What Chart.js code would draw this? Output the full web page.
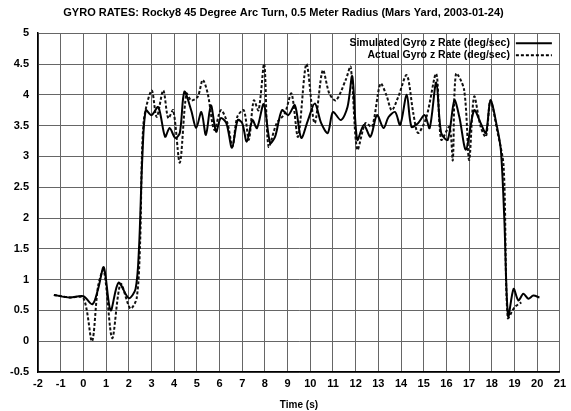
<!DOCTYPE html>
<html>
<head>
<meta charset="utf-8">
<script src="https://cdn.jsdelivr.net/npm/chart.js@4"></script>
<style>
  html, body { margin: 0; padding: 0; background: #fff; }
  #wrap { width: 571px; height: 411px; }
</style>
</head>
<body>
<div id="wrap"><canvas id="myChart"></canvas></div>
<script>
// chart text
const chartTitle = "GYRO RATES: Rocky8 45 Degree Arc Turn, 0.5 Meter Radius (Mars Yard, 2003-01-24)";
const xTitle = "Time (s)";
const seriesNames = ["Simulated Gyro z Rate (deg/sec)", "Actual Gyro z Rate (deg/sec)"];

// axis ranges / tick steps
const xRange = [-2, 21];
const yRange = [-0.5, 5];
const xStep = 1;
const yStep = 0.5;

// simulated gyro (solid line)
const simTime = [-1.3, -0.6, 0.0, 0.4, 0.65, 0.9, 1.2, 1.55, 2.0, 2.3, 2.45, 2.6, 2.75, 3.0, 3.3, 3.6, 3.8, 4.05, 4.25, 4.45,
  4.75, 4.97, 5.2, 5.4, 5.62, 5.85, 6.05, 6.3, 6.55, 6.8, 7.0, 7.2, 7.45, 7.65, 7.95, 8.23, 8.45, 8.75, 9.03, 9.32,
  9.6, 9.9, 10.2, 10.48, 10.77, 11.0, 11.35, 11.64, 11.85, 12.07, 12.36, 12.65, 12.94, 13.23, 13.45, 13.74, 13.96, 14.25, 14.46, 14.75,
  15.04, 15.26, 15.55, 15.77, 16.06, 16.35, 16.57, 16.86, 17.22, 17.51, 17.74, 17.94, 18.23, 18.4, 18.55, 18.72, 18.96, 19.17, 19.39, 19.61,
  19.83, 20.1];
const simRate = [0.75, 0.71, 0.73, 0.6, 0.85, 1.2, 0.5, 0.95, 0.7, 0.85, 1.5, 3.0, 3.75, 3.67, 3.8, 3.32, 3.46, 3.3, 3.38, 4.05,
  3.75, 3.46, 3.72, 3.35, 3.83, 3.4, 3.62, 3.54, 3.14, 3.59, 3.54, 3.24, 3.59, 3.46, 3.85, 3.22, 3.32, 3.75, 3.67, 3.83,
  3.3, 3.59, 3.86, 3.54, 3.38, 3.72, 3.59, 3.8, 4.3, 3.27, 3.51, 3.32, 3.67, 3.46, 3.64, 3.72, 3.51, 4.0, 3.48, 3.54,
  3.67, 3.46, 4.2, 3.38, 3.27, 3.91, 3.64, 3.11, 3.75, 3.54, 3.38, 3.91, 3.48, 3.1, 2.0, 0.4, 0.85, 0.66, 0.77, 0.69,
  0.74, 0.71];

// actual gyro (dashed line)
const actTime = [-1.3, -0.6, 0.0, 0.38, 0.65, 0.9, 1.27, 1.64, 2.07, 2.35, 2.5, 2.65, 3.01, 3.23, 3.52, 3.74, 3.96, 4.25, 4.54, 4.75,
  5.04, 5.26, 5.48, 5.77, 6.06, 6.35, 6.57, 6.78, 7.07, 7.29, 7.51, 7.72, 7.97, 8.16, 8.52, 8.88, 9.17, 9.46, 9.83, 10.19,
  10.55, 10.84, 11.13, 11.56, 11.78, 12.07, 12.43, 12.72, 13.09, 13.35, 13.59, 13.88, 14.25, 14.54, 14.75, 15.12, 15.55, 15.77, 16.13, 16.28,
  16.42, 16.78, 17.0, 17.22, 17.51, 17.74, 17.94, 18.23, 18.52, 18.7, 19.0, 19.3];
const actRate = [0.75, 0.71, 0.7, 0.0, 0.9, 1.15, 0.05, 0.93, 0.53, 0.7, 1.6, 3.54, 4.07, 3.64, 4.07, 3.62, 3.75, 2.9, 4.02, 3.91,
  3.97, 4.24, 4.02, 3.43, 3.75, 3.54, 3.16, 3.64, 3.75, 3.27, 3.91, 3.75, 4.5, 3.16, 3.54, 3.7, 4.02, 3.32, 4.5, 3.54,
  4.4, 4.02, 3.91, 4.24, 4.45, 3.11, 3.54, 3.48, 4.18, 4.0, 3.75, 3.97, 4.32, 3.7, 3.38, 3.64, 4.34, 3.27, 3.48, 2.94,
  4.34, 4.08, 2.94, 3.97, 3.48, 3.32, 3.91, 3.43, 2.84, 0.38, 0.55, 0.63];

const toPoints = (xs, ys) => xs.map((x, i) => ({ x: x, y: ys[i] }));
const FONT = "'Liberation Sans', Arial, sans-serif";

// gnuplot style key: text right aligned, line sample on its right
const keyPlugin = {
  id: "gnuKey",
  afterDatasetsDraw(chart) {
    const c = chart.ctx;
    const area = chart.chartArea;
    c.save();
    c.font = "bold 10.5px " + FONT;
    c.textAlign = "right";
    c.textBaseline = "middle";
    chart.data.datasets.forEach((ds, i) => {
      const y = area.top + 10 + i * 12;
      c.fillStyle = "#000";
      c.fillText(ds.label, area.right - 50, y);
      c.strokeStyle = "#000";
      c.lineWidth = ds.borderWidth;
      c.setLineDash(ds.borderDash || []);
      c.beginPath();
      c.moveTo(area.right - 44, y);
      c.lineTo(area.right - 8, y);
      c.stroke();
    });
    c.restore();
  },
};

new Chart(document.getElementById("myChart"), {
  type: "line",
  data: {
    datasets: [
      {
        label: seriesNames[0],
        data: toPoints(simTime, simRate),
        borderColor: "#000",
        borderWidth: 2,
        pointRadius: 0,
        tension: 0.3,
      },
      {
        label: seriesNames[1],
        data: toPoints(actTime, actRate),
        borderColor: "#111",
        borderWidth: 2,
        borderDash: [3, 2],
        pointRadius: 0,
        tension: 0.3,
      },
    ],
  },
  options: {
    responsive: true,
    maintainAspectRatio: false,
    animation: false,
    layout: { padding: { left: 0, right: 4, top: 0, bottom: 0 } },
    scales: {
      x: {
        type: "linear",
        min: xRange[0],
        max: xRange[1],
        ticks: { stepSize: xStep, color: "#000", padding: 5, font: { family: FONT, size: 11, weight: "bold" } },
        grid: { color: "#666", borderDash: [1, 2], drawTicks: false },
        border: { color: "#000", width: 1.5 },
        title: { display: true, text: xTitle, color: "#000", padding: { top: 3, bottom: 0 }, font: { family: FONT, size: 10, weight: "bold" } },
        afterFit: (s) => { s.height = 39; },
      },
      y: {
        min: yRange[0],
        max: yRange[1],
        ticks: {
          stepSize: yStep,
          color: "#000",
          padding: 9,
          font: { family: FONT, size: 11, weight: "bold" },
          callback: (v) => String(Math.round(v * 10) / 10),
        },
        grid: { color: "#666", borderDash: [1, 2], drawTicks: false },
        border: { color: "#000", width: 1.5 },
        afterFit: (s) => { s.width = 38; },
      },
    },
    plugins: {
      legend: { display: false },
      tooltip: { enabled: false },
      title: {
        display: true,
        text: chartTitle,
        color: "#000",
        padding: { top: 6, bottom: 14 },
        font: { family: FONT, size: 11, weight: "bold" },
      },
    },
  },
  plugins: [keyPlugin],
});
</script>
</body>
</html>
